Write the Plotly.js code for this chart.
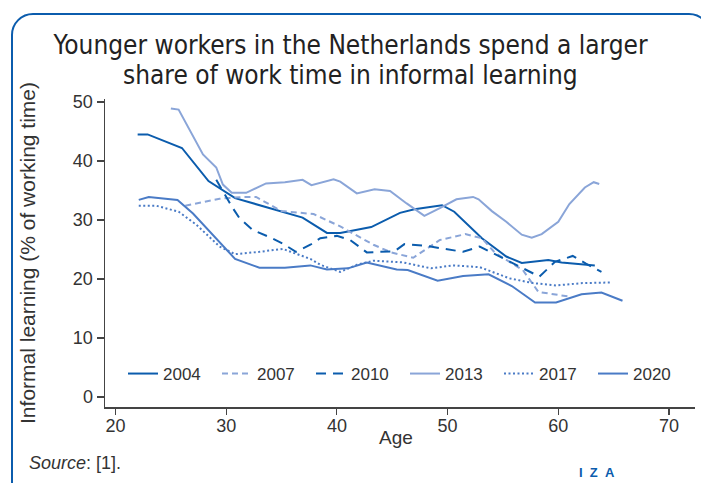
<!DOCTYPE html>
<html>
<head>
<meta charset="utf-8">
<script src="https://cdn.plot.ly/plotly-3.0.1.min.js"></script>
<style>
  html, body { margin: 0; padding: 0; width: 701px; height: 483px; overflow: hidden; background: #fff; }
  #frame { position: absolute; left: 11px; top: 13px; width: 700px; height: 520px;
           border: 2.5px solid #0b5cad; border-radius: 22px; box-sizing: border-box; }
  #chart { position: absolute; left: 0; top: 0; width: 701px; height: 483px; }
</style>
</head>
<body>
<div id="frame"></div>
<div id="chart"></div>
<script>
// ---- data ----
const age2004 = [22.0, 22.9, 26.0, 28.4, 30.8, 35.3, 36.9, 39.1, 40.3, 43.1, 45.7, 47.0, 49.5, 50.6, 53.1, 55.3, 56.7, 59.1, 60.3, 63.3];
const val2004 = [44.5, 44.5, 42.2, 36.6, 33.7, 31.3, 30.4, 27.8, 27.8, 28.8, 31.2, 31.8, 32.5, 31.4, 26.9, 23.8, 22.7, 23.2, 22.8, 22.3];

const age2007 = [26.3, 29.4, 31.5, 32.7, 35.0, 37.9, 40.3, 43.3, 44.9, 46.9, 49.3, 51.6, 53.1, 54.3, 56.8, 58.2, 61.0];
const val2007 = [32.4, 33.6, 33.9, 33.9, 31.5, 31.0, 28.9, 25.8, 24.5, 23.6, 26.6, 27.6, 26.9, 24.4, 21.5, 17.8, 17.0];

const age2010 = [29.1, 29.9, 30.6, 31.2, 32.4, 33.9, 35.1, 36.3, 37.6, 38.5, 40.0, 41.2, 42.7, 45.2, 46.1, 48.1, 51.4, 52.9, 54.7, 56.8, 58.3, 59.7, 61.3, 62.5, 63.9];
const val2010 = [36.8, 34.2, 32.0, 30.3, 28.3, 27.1, 26.0, 24.6, 25.8, 26.9, 27.3, 26.6, 24.5, 24.7, 25.9, 25.6, 24.6, 25.5, 23.8, 21.8, 20.4, 22.9, 23.9, 22.6, 21.2];

const age2013 = [25.0, 25.7, 27.9, 29.1, 29.7, 30.5, 31.8, 33.6, 35.3, 36.9, 37.7, 39.7, 40.3, 41.8, 43.4, 44.8, 46.3, 47.9, 49.3, 50.8, 52.3, 52.8, 54.0, 55.3, 56.7, 57.6, 58.5, 60.0, 61.0, 62.4, 63.2, 63.7];
const val2013 = [48.9, 48.7, 41.1, 38.9, 36.0, 34.6, 34.6, 36.2, 36.4, 36.8, 35.9, 36.9, 36.5, 34.5, 35.2, 34.9, 32.8, 30.7, 32.0, 33.5, 33.9, 33.5, 31.5, 29.7, 27.5, 27.0, 27.6, 29.7, 32.7, 35.5, 36.4, 36.1];

const age2017 = [22.1, 23.7, 25.7, 27.3, 29.4, 30.8, 33.0, 35.1, 37.6, 38.5, 40.3, 41.8, 43.3, 46.0, 48.5, 50.5, 52.9, 54.7, 55.6, 57.7, 59.8, 62.2, 64.7];
const val2017 = [32.4, 32.4, 31.4, 29.2, 25.5, 24.2, 24.6, 25.1, 23.4, 22.4, 21.2, 22.4, 23.1, 22.8, 21.8, 22.3, 22.0, 20.7, 20.1, 19.3, 18.9, 19.3, 19.4];

const age2020 = [22.1, 23.0, 25.6, 27.0, 30.8, 33.0, 35.3, 37.6, 39.1, 41.0, 42.7, 45.4, 46.4, 49.1, 51.4, 53.7, 55.8, 57.9, 59.8, 62.1, 63.9, 65.8];
const val2020 = [33.4, 33.9, 33.4, 31.1, 23.4, 21.9, 21.9, 22.3, 21.6, 21.8, 22.8, 21.6, 21.5, 19.7, 20.5, 20.8, 18.8, 16.0, 16.0, 17.4, 17.7, 16.3];

const seriesNames = ["2004", "2007", "2010", "2013", "2017", "2020"];
const xTicks = [20, 30, 40, 50, 60, 70];
const yTicks = [0, 10, 20, 30, 40, 50];

const titleLine1 = "Younger workers in the Netherlands spend a larger";
const titleLine2 = "share of work time in informal learning";
const yTitle = "Informal learning (% of working time)";
const xTitle = "Age";

// ---- styles ----
const DARK = "#0b5cad", MID = "#4a7bc6", LIGHT = "#8aa5d8";
const styles = [
  {color: DARK,  dash: "solid"},
  {color: LIGHT, dash: "6px,4px"},
  {color: DARK,  dash: "10px,7px"},
  {color: LIGHT, dash: "solid"},
  {color: MID,   dash: "2px,2.5px"},
  {color: MID,   dash: "solid"}
];
const xs = [age2004, age2007, age2010, age2013, age2017, age2020];
const ys = [val2004, val2007, val2010, val2013, val2017, val2020];

const traces = seriesNames.map((n, i) => ({
  type: "scatter", mode: "lines", name: n,
  x: xs[i], y: ys[i],
  line: {color: styles[i].color, width: 2, dash: styles[i].dash}
}));

const BASE = "'Liberation Sans', Arial, sans-serif";
const NARROW = "'Liberation Sans Narrow', 'Arial Narrow', 'DejaVu Sans Condensed', sans-serif";

const layout = {
  width: 701, height: 483,
  margin: {l: 105, r: 6, t: 99, b: 76, pad: 0},
  paper_bgcolor: "rgba(0,0,0,0)", plot_bgcolor: "rgba(0,0,0,0)",
  font: {family: BASE, color: "#333", size: 17},
  title: {text: titleLine1, font: {family: NARROW, size: 26, color: "#222"},
          x: 0.5, xref: "container", xanchor: "center", y: 1 - 45/483, yref: "container", yanchor: "middle"},
  showlegend: true,
  legend: {orientation: "h", x: (123-105)/590, xanchor: "left", y: (407-374)/308, yanchor: "middle",
           bgcolor: "rgba(0,0,0,0)", font: {size: 17, color: "#333"},
           entrywidth: 49, entrywidthmode: "pixels", itemwidth: 30, traceorder: "normal"},
  xaxis: {range: [19.05, 72.35], tickvals: xTicks, ticktext: xTicks.map(String),
          showgrid: false, zeroline: false, showline: true, linecolor: "#444", linewidth: 1.5,
          ticks: "outside", ticklen: 6, tickcolor: "#444", tickwidth: 1.2, ticklabelstandoff: -4,
          tickfont: {size: 18, color: "#333"}},
  yaxis: {range: [-1.7, 50.5], tickvals: yTicks, ticktext: yTicks.map(String),
          showgrid: false, zeroline: false, showline: true, linecolor: "#444", linewidth: 1.5,
          ticks: "outside", ticklen: 7, tickcolor: "#444", tickwidth: 1.2,
          tickfont: {size: 18, color: "#333"},
          title: {text: yTitle, font: {size: 21, color: "#333"}, standoff: 31}},
  annotations: [
    {text: titleLine2, xref: "paper", yref: "paper", x: (350-105)/590, y: (407-75)/308,
     xanchor: "center", yanchor: "middle", showarrow: false, font: {family: NARROW, size: 26, color: "#222"}},
    {text: xTitle, xref: "paper", yref: "paper", x: (396-105)/590, y: (407-437)/308,
     xanchor: "center", yanchor: "middle", showarrow: false, font: {size: 19, color: "#333"}},
    {text: "<i>Source</i>: [1].", xref: "paper", yref: "paper", x: (27-105)/590, y: (407-463)/308,
     xanchor: "left", yanchor: "middle", showarrow: false, font: {size: 18, color: "#333"}},
    {text: "<b>I&nbsp;&nbsp;Z&nbsp;&nbsp;A</b>", xref: "paper", yref: "paper", x: (597-105)/590, y: (407-473)/308,
     xanchor: "center", yanchor: "middle", showarrow: false, font: {size: 13, color: DARK}}
  ]
};

Plotly.newPlot("chart", traces, layout, {displayModeBar: false, staticPlot: true});
</script>
</body>
</html>
